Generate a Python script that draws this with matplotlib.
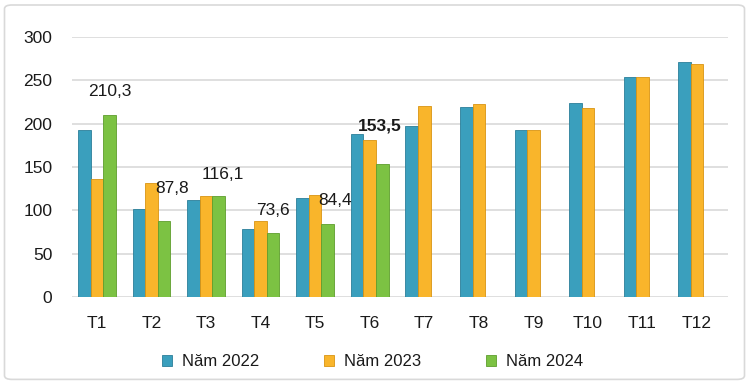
import numpy as np
import matplotlib
import matplotlib.pyplot as plt
from matplotlib.patches import FancyBboxPatch

matplotlib.use("Agg")
plt.rcParams["font.family"] = ["Liberation Sans", "DejaVu Sans"]

# ── data ──────────────────────────────────────────────
months = ["T1", "T2", "T3", "T4", "T5", "T6", "T7", "T8", "T9", "T10", "T11", "T12"]
y2022 = [193, 101, 112, 78, 114, 188, 197, 219, 193, 224, 254, 271]
y2023 = [136, 131, 116, 87, 117, 181, 220, 223, 193, 218, 254, 269]
y2024 = [210.3, 87.8, 116.1, 73.6, 84.4, 153.5]
labels_2024 = ["210,3", "87,8", "116,1", "73,6", "84,4", "153,5"]

# ── figure ────────────────────────────────────────────
fig = plt.figure(figsize=(7.49, 3.84), dpi=100)
fig.patch.set_facecolor("white")
fig.patches.append(FancyBboxPatch((0.006, 0.012), 0.988, 0.975, boxstyle="round,pad=0,rounding_size=0.01",
                                  transform=fig.transFigure, fc="none", ec="#d9d9d9", lw=1.2))

ax = fig.add_axes([0.096, 0.227, 0.876, 0.677])
x = np.arange(len(months))
w = 0.23
c22, c23, c24 = "#3a9fbd", "#f9b52b", "#7cc243"

ax.bar(x - w, y2022, w, color=c22, edgecolor="#2b7f99", lw=0.6, label="Năm 2022", zorder=3)
ax.bar(x, y2023, w, color=c23, edgecolor="#d99412", lw=0.6, label="Năm 2023", zorder=3)
ax.bar(x[:len(y2024)] + w, y2024, w, color=c24, edgecolor="#5e9e2d", lw=0.6, label="Năm 2024", zorder=3)

# data labels for 2024 (offsets in points)
offs = [(0, 11), (6, 18), (3, 10), (0, 11), (5, 11), (-2, 22)]
for i, (v, t) in enumerate(zip(y2024, labels_2024)):
    ax.annotate(t, (x[i] + w, v), xytext=offs[i], textcoords="offset points",
                ha="center", va="bottom", fontsize=12.5, color="#1a1a1a",
                fontweight="bold" if i == 5 else "normal", zorder=5)

ax.set_ylim(0, 300)
ax.set_xlim(-0.46, 11.57)
ax.set_yticks(np.arange(0, 301, 50))
ax.set_xticks(x)
ax.set_xticklabels(months)
ax.tick_params(axis="both", length=0, labelsize=12.5, colors="#1a1a1a")
ax.tick_params(axis="x", pad=14)
ax.tick_params(axis="y", pad=14)
ax.grid(axis="y", color="#d9d9d9", lw=1.2, zorder=0)
for s in ax.spines.values():
    s.set_visible(False)

fig.legend(loc="center", bbox_to_anchor=(0.497, 0.058), ncol=3, frameon=False, fontsize=12,
           handlelength=0.6, handleheight=0.6, columnspacing=3.9, handletextpad=0.6,
           labelcolor="#1a1a1a")

plt.savefig("out.png", dpi=100)
